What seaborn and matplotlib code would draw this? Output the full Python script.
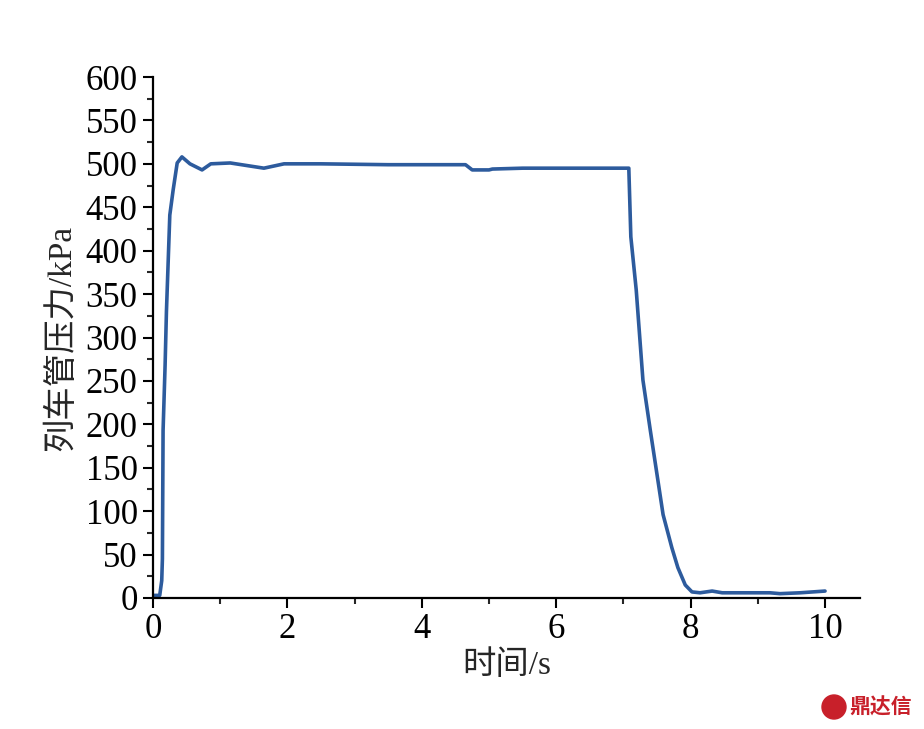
import matplotlib
matplotlib.use("Agg")
import matplotlib.pyplot as plt
import seaborn as sns
import pandas as pd
from matplotlib.ticker import MultipleLocator
from matplotlib.patches import Ellipse

time_s = [0.0, 0.1, 0.13, 0.14, 0.15, 0.18, 0.2, 0.25, 0.3, 0.36, 0.43, 0.55, 0.73, 0.86,
          1.15, 1.65, 1.95, 2.5, 3.5, 4.65, 4.75, 5.0, 5.05, 5.5, 6.5, 7.08,
          7.11, 7.19, 7.29, 7.4, 7.5, 7.59, 7.72, 7.81, 7.92, 8.02, 8.14, 8.32,
          8.47, 9.18, 9.33, 9.63, 10.0]
pressure_kpa = [3, 3, 20, 45, 193, 268, 330, 441, 470, 501, 508, 500, 493, 500,
                501, 495, 500, 500, 499, 499, 493, 493, 494, 495, 495, 495,
                416, 355, 251, 193, 142, 96, 58, 35, 15, 7, 6, 8,
                6, 6, 5, 6, 8]

x_ticks = [0, 2, 4, 6, 8, 10]
y_ticks = list(range(0, 601, 50))
x_label = "时间/s"
y_label = "列车管压力/kPa"
watermark = "鼎达信"

df = pd.DataFrame({"t": time_s, "p": pressure_kpa})

sns.set_style("ticks")
plt.rcParams["font.family"] = ["Liberation Serif", "Noto Sans CJK SC", "DejaVu Sans"]

fig = plt.figure(figsize=(9.24, 7.29), dpi=100)
ax = fig.add_axes([153/924, 1-598/729, (860-153)/924, (598-77)/729])

sns.lineplot(data=df, x="t", y="p", ax=ax, color="#2d5b9d", linewidth=2.6,
             sort=False, estimator=None)

ax.set_xlim(0, 10.52)
ax.set_ylim(0, 600)
ax.set_xticks(x_ticks)
ax.set_yticks(y_ticks)
ax.xaxis.set_minor_locator(MultipleLocator(1))
ax.yaxis.set_minor_locator(MultipleLocator(25))
ax.tick_params(which="major", direction="out", length=7, width=1.5, labelsize=25,
               colors="black", pad=4)
ax.tick_params(which="minor", direction="out", length=4, width=1.5)
for s in ["top", "right"]:
    ax.spines[s].set_visible(False)
for s in ["left", "bottom"]:
    ax.spines[s].set_linewidth(1.6)
    ax.spines[s].set_color("black")

ax.set_xlabel(x_label, fontsize=24, labelpad=3)
ax.set_ylabel(y_label, fontsize=24, labelpad=6)

fig.patches.append(Ellipse((834/924, 1-707/729), 24/924, 24/729,
                           transform=fig.transFigure, color="#c8202a"))
fig.text(849/924, 1-707/729, watermark, color="#c8202a", fontsize=15,
         fontweight="bold", ha="left", va="center",
         family=["Noto Sans CJK SC"])

fig.savefig("out.png", dpi=100)
